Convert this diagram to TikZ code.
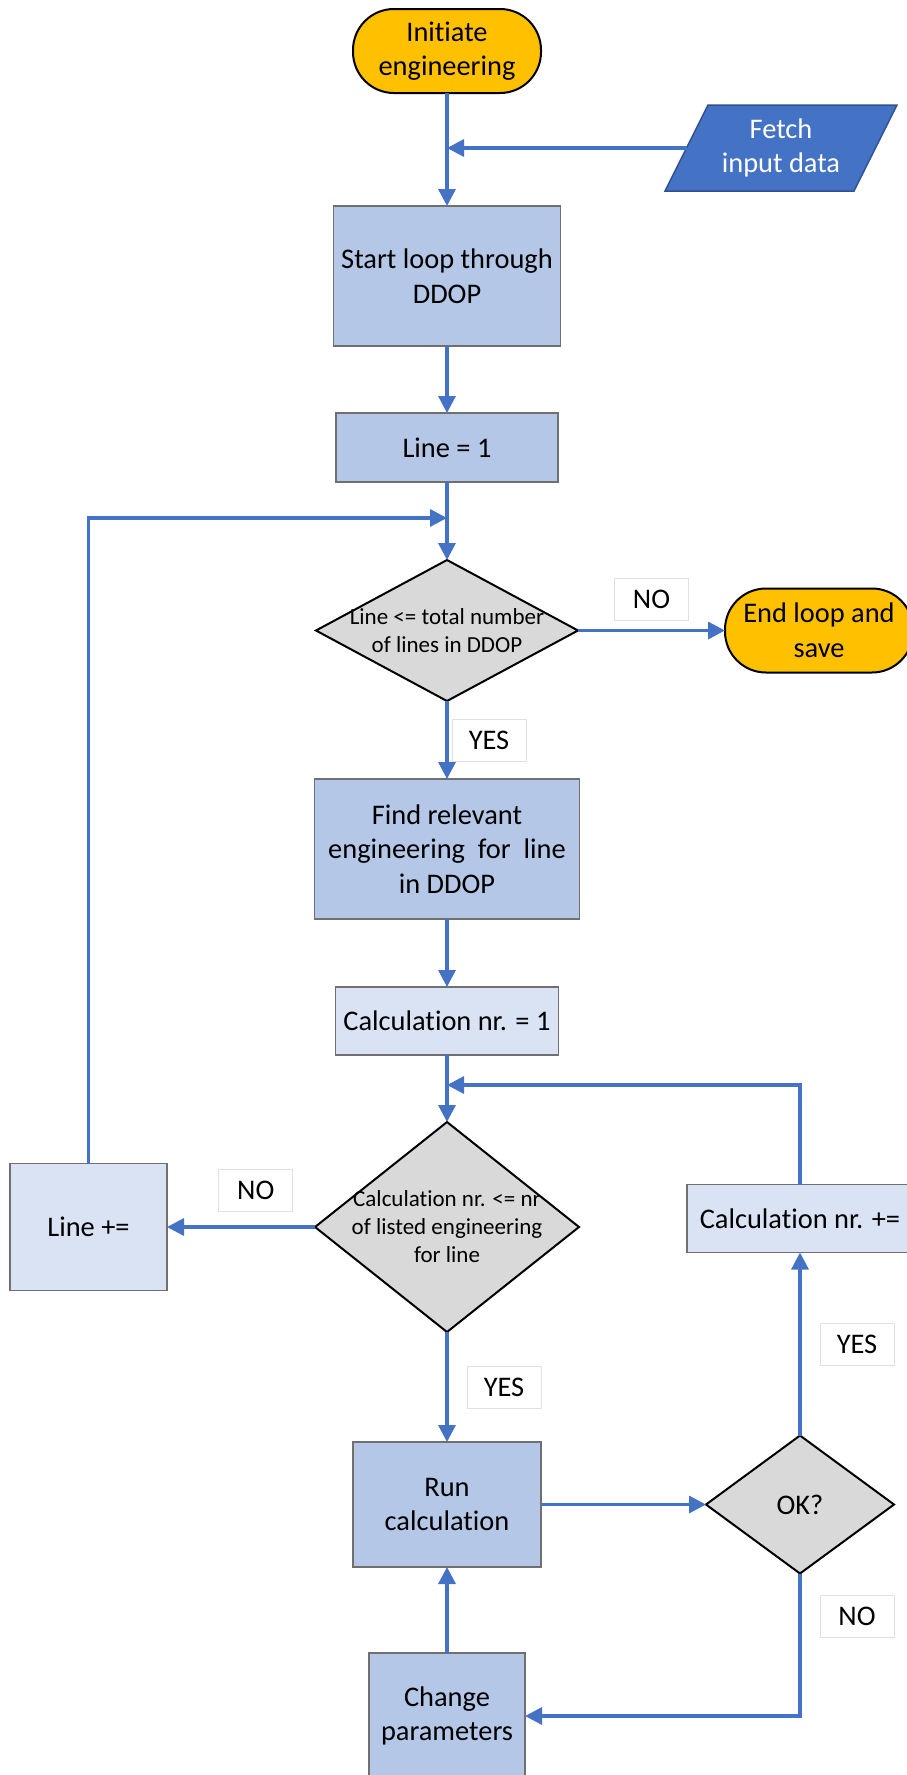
\documentclass[tikz,border=0pt]{standalone}
\usepackage{fontspec}
\setmainfont{Carlito}[Ligatures=NoCommon]
\usetikzlibrary{shapes.geometric, positioning, arrows.meta, backgrounds}

\definecolor{termorange}{HTML}{FFC000}
\definecolor{procblue}{HTML}{B4C7E7}
\definecolor{paleblue}{HTML}{DAE3F3}
\definecolor{iofill}{HTML}{4472C4}
\definecolor{ioline}{HTML}{2F528F}
\definecolor{flowblue}{HTML}{4472C4}
\definecolor{decgray}{HTML}{D9D9D9}
\definecolor{boxline}{HTML}{707070}
\definecolor{tagline}{HTML}{E0E0E0}

\newcommand{\flowfont}{\fontsize{28.4}{34.6}\selectfont}
\newcommand{\decfont}{\fontsize{23}{28}\selectfont}

\tikzset{
>={Triangle[length=17pt, width=17pt]}, % filled triangle heads
every node/.style={outer sep=0pt}, % connectors end on the border line
flow/.style={->, draw=flowblue, line width=3.3pt}, % the blue connectors
boxsize/.style 2 args={minimum width=#1pt, minimum height=#2pt},
terminal/.style={rectangle, rounded corners=41pt, draw=black, line width=2pt, fill=termorange, boxsize={188}{84}, align=center, font=\flowfont, inner sep=2pt},
io/.style={rectangle, text=white, boxsize={189}{86}, align=center, font=\flowfont, inner sep=0pt}, % text part of the data box
ioshape/.style={draw=ioline, line width=1.5pt, fill=iofill}, % slanted outline behind it
process/.style={rectangle, draw=boxline, line width=1.5pt, fill=procblue, align=center, font=\flowfont, inner sep=3pt},
pale/.style={process, fill=paleblue}, % lighter counter boxes
decision/.style={diamond, draw=black, line width=2pt, fill=decgray, inner sep=0pt},
dtext/.style={align=center, font=\decfont, inner sep=0pt},
tag/.style={rectangle, draw=tagline, line width=1pt, fill=white, font=\flowfont, boxsize={74}{42}, inner sep=0pt},
}

\begin{document}
\begin{tikzpicture}[x=1pt, y=-1pt]
\useasboundingbox (0,0) rectangle (907,1775);

\node[terminal] (init) at (447,51) {Initiate\\engineering};
\node[io] (fetch) at (781,148) {Fetch\\input data};
\begin{scope}[on background layer]
  \path[ioshape] ([xshift=-21.5pt]fetch.south west) -- ([xshift=21.5pt]fetch.north west)
    -- ([xshift=21.5pt]fetch.north east) -- ([xshift=-21.5pt]fetch.south east) -- cycle;
\end{scope}
\node[process, boxsize={227}{140}, below=113pt of init] (start) {Start loop through\\DDOP};
\node[process, boxsize={222}{69}, below=67pt of start] (line1) {Line = 1};
\node[decision, boxsize={262}{141}, below=78pt of line1,
  label={[dtext]center:{Line <= total number\\of lines in DDOP}}] (chkline) {};
\node[terminal, right=147pt of chkline] (endsave) {End loop and\\save};
\node[process, boxsize={265}{140}, below=78pt of chkline] (find) {Find relevant\\engineering \ for \ line\\in DDOP};
\node[pale, boxsize={223}{68}, below=68pt of find] (calc1) {Calculation nr. = 1};
\node[decision, boxsize={264}{210}, below=67pt of calc1,
  label={[dtext]center:{Calculation nr. <= nr\\of listed engineering\\for line}}] (chkcalc) {};
\node[pale, boxsize={157}{127}, left=148pt of chkcalc] (lineinc) {Line +=};
\node[process, boxsize={188}{125}, below=110pt of chkcalc] (runcalc) {Run\\calculation};
\node[decision, boxsize={188}{138}, right=165pt of runcalc,
  label={[dtext, font=\flowfont]center:OK?}] (ok) {};
\node[pale, boxsize={226}{68}, above=183pt of ok] (calcinc) {Calculation nr. +=};
\node[process, boxsize={156}{126}, below=86pt of runcalc] (chparam) {Change\\parameters};

\coordinate (join0) at (init |- fetch);
\coordinate[below=36pt of line1] (join1);
\coordinate[below=30pt of calc1] (join2);

\draw[flow] (init) -- (start);
\draw[flow] (fetch) -- (join0);
\draw[flow] (start) -- (line1);
\draw[flow] (line1) -- (chkline);
\draw[flow] (chkline) -- node[tag, above=10pt] (no1) {NO} (endsave);
\draw[flow] (chkline) -- node[tag, right=5pt] (yes1) {YES} (find);
\draw[flow] (find) -- (calc1);
\draw[flow] (calc1) -- (chkcalc);
\draw[flow] (chkcalc) -- node[tag, pos=0.4, above=16pt] (no2) {NO} (lineinc);
\draw[flow] (lineinc) |- (join1);
\draw[flow] (chkcalc) -- node[tag, right=20pt] (yes2) {YES} (runcalc);
\draw[flow] (runcalc) -- (ok);
\draw[flow] (ok) -- node[tag, right=20pt] (yes3) {YES} (calcinc);
\draw[flow] (calcinc) |- (join2);
\draw[flow] (ok) |- node[tag, pos=0.15, right=20pt] (no3) {NO} (chparam);
\draw[flow] (chparam) -- (runcalc);
\end{tikzpicture}
\end{document}
